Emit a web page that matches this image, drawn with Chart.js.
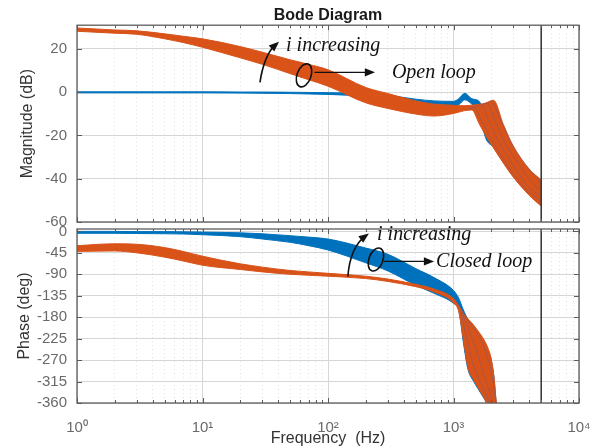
<!DOCTYPE html>
<html>
<head>
<meta charset="utf-8">
<script src="https://cdn.jsdelivr.net/npm/chart.js@4.4.0/dist/chart.umd.min.js"></script>
<style>
  html, body { margin: 0; padding: 0; background: #fff; }
  #wrap { position: relative; width: 602px; height: 448px; overflow: hidden; }
  .pane { position: absolute; left: 0; width: 602px; }
  #magPane { top: 0; height: 240px; }
  #phasePane { top: 210px; height: 238px; }
</style>
</head>
<body>
<div id="wrap">
  <div class="pane" id="magPane"><canvas id="magChart" width="602" height="240"></canvas></div>
  <div class="pane" id="phasePane"><canvas id="phaseChart" width="602" height="238"></canvas></div>
</div>
<script>
(function () {
  "use strict";

  // axis ticks
  const decadeTicks = [1, 10, 100, 1000, 10000];
  const decadeLabels = ['10⁰', '10¹', '10²', '10³', '10⁴'];
  const magTicks = [-60, -40, -20, 0, 20];
  const phaseTicks = [-360, -315, -270, -225, -180, -135, -90, -45, 0];
  const markerFreq = 5000;

  // magnitude (dB): envelope of the family of curves, closed loop (blue) and open loop (orange)
  const freqMag = [1, 2, 3, 5, 7, 10, 20, 30, 50, 70, 100, 200, 300, 500, 700, 1000, 1100, 1230, 1400, 1600, 1800, 2080, 2500, 3000, 4000, 5000];
  const magClosedHi = [0.2, 0.2, 0.2, 0.2, 0.2, 0.2, 0.1, 0.1, 0, -0.1, -0.2, -0.6, -1.4, -3.2, -4.0, -4.2, -3.0, -0.5, -3.0, -4.2, -12, -22, -31, -38.5, -46, -50];
  const magClosedLo = [-0.3, -0.3, -0.3, -0.3, -0.3, -0.3, -0.4, -0.5, -0.6, -0.8, -1.0, -1.9, -3.0, -5.0, -6.2, -6.5, -5.8, -3.5, -5.5, -9, -21, -25.5, -32.5, -39, -47, -52.5];
  const magOpenHi = [29.7, 28.8, 28.4, 27.0, 25.9, 24.7, 21.1, 18.5, 15.0, 12.9, 10.4, 2.2, -0.6, -4.0, -5.5, -6.0, -6.2, -6.2, -6.0, -5.6, -5.0, -3.7, -15.0, -25.0, -35.5, -40.5];
  const magOpenLo = [28.2, 27.3, 26.8, 24.7, 23.0, 20.8, 15.9, 12.9, 8.6, 5.8, 2.8, -4.9, -7.5, -10.1, -11.0, -9.8, -9.2, -8.5, -8.2, -14.5, -19.9, -25.7, -32.8, -39.3, -47.6, -52.7];

  // individual open-loop curves past the resonance
  const magFanFreq = [
    [1300, 1450, 1700, 2100, 2700, 3600, 5000],
    [1450, 1650, 1900, 2300, 3000, 4000, 5000],
    [1650, 1850, 2100, 2500, 3200, 4200, 5000],
    [1850, 2000, 2300, 2800, 3500, 4500, 5000]
  ];
  const magFanDb = [
    [-8, -7, -14, -24, -34, -43.5, -50.5],
    [-7.5, -6, -13, -23, -34, -44, -48],
    [-6.5, -5, -12, -22, -32, -41.5, -45.5],
    [-5.5, -4.2, -11, -22, -31, -39, -42.5]
  ];

  // phase (deg)
  const freqPh = [1, 2, 3, 5, 7, 10, 20, 30, 50, 70, 100, 200, 300, 500, 700, 1000, 1100, 1200, 1300, 1450, 1550, 1700, 1850, 2000, 2100, 2200, 2400];
  const phClosedHi = [0, 0, -0.5, -0.5, -1, -1.5, -3, -5, -9, -12, -16, -35, -48, -78, -97, -124, -140, -165, -184, -200, -210, -225, -245, -270, -305, -362, -385];
  const phClosedLo = [-4, -4, -4.5, -5, -5.5, -7, -11, -16, -23, -30, -39, -66, -83, -113, -130, -151, -165, -234, -288, -315, -328, -345, -362, -383, -393, -393, -393];
  const phOpenHi = [-30, -26, -27, -34, -42, -52, -68, -75, -82, -85, -88, -94, -100, -111, -121, -141, -156, -172, -183, -197, -207, -222, -240, -268, -305, -360, -380];
  const phOpenLo = [-42, -41, -45, -54, -62, -71, -80, -85, -90, -92, -94, -99, -105, -116, -127, -150, -168, -227, -284, -312, -325, -343, -360, -380, -390, -390, -390];

  const phFanFreq = [
    [1150, 1250, 1400, 1600, 1800, 2000],
    [1150, 1300, 1500, 1700, 1900, 2100],
    [1150, 1350, 1600, 1850, 2050, 2200]
  ];
  const phFanDeg = [
    [-170, -215, -270, -310, -340, -370],
    [-168, -200, -245, -290, -330, -375],
    [-165, -192, -220, -262, -310, -370]
  ];

  const BLUE = '#0072BD';
  const ORANGE = '#D95319';
  const FAN = 'rgba(115, 90, 120, 0.55)';
  const FONT = '"Liberation Sans", Arial, sans-serif';
  const NOTE_FONT = 'italic 20px "Liberation Serif", "Times New Roman", serif';

  const minorTicks = decadeTicks.slice(0, -1).flatMap(d => [2, 3, 4, 5, 6, 7, 8, 9].map(k => k * d));

  // annotation anchors, in (Hz, axis units)
  const magNote = {
    bend: [[28.7, 4.6], [30.9, 17], [40.7, 23.4]],
    text: [46.3, 21.5, 'i increasing'],
    ring: [64.4, 7.8],
    pointer: [[78, 9.2], [237, 9.2]],
    name: [323, 9.2, 'Open loop']
  };
  const phaseNote = {
    bend: [[144, -94.6], [149.7, -33.6], [212, -4.2]],
    text: [246, -8, 'i increasing'],
    ring: [241, -59],
    pointer: [[279, -63], [700, -63]],
    name: [726, -63, 'Closed loop']
  };

  function pts(xs, ys) {
    return xs.map((x, k) => ({x: x, y: ys[k]}));
  }

  function envelope(xs, lo, hi, color, order) {
    return [
      {data: pts(xs, lo), borderColor: color, borderWidth: 1, fill: false, order: order},
      {data: pts(xs, hi), borderColor: color, borderWidth: 1, backgroundColor: color, fill: '-1', order: order}
    ];
  }

  function fanLines(fx, fy) {
    return fx.map((xs, k) => ({data: pts(xs, fy[k]), borderColor: FAN, borderWidth: 0.9, fill: false, order: 2}));
  }

  function marker(lo, hi) {
    return {
      data: [{x: markerFreq, y: lo}, {x: markerFreq, y: hi}],
      borderColor: '#3a3a3a', borderWidth: 1.6, fill: false, order: 1,
      tension: 0, cubicInterpolationMode: 'default'
    };
  }

  function freqAxis(showLabels) {
    return {
      type: 'logarithmic',
      min: 1,
      max: 10000,
      afterBuildTicks: s => { s.ticks = decadeTicks.map(v => ({value: v})); },
      afterFit: s => {
        s.height = showLabels ? 45 : 0;
        s.paddingLeft = 0;
        s.paddingRight = 0;
      },
      grid: {color: '#d6d6d6', lineWidth: 1, drawTicks: false},
      border: {display: false},
      ticks: {
        display: showLabels,
        autoSkip: false,
        maxRotation: 0,
        padding: 16,
        color: '#6a6a6a',
        font: {family: FONT, size: 15},
        callback: (v, i) => decadeLabels[i]
      },
      title: {
        display: showLabels,
        text: 'Frequency  (Hz)',
        color: '#333',
        font: {family: FONT, size: 16},
        padding: {top: 0, bottom: 0}
      }
    };
  }

  function minorAxis() {
    return {
      type: 'logarithmic',
      position: 'bottom',
      min: 1,
      max: 10000,
      afterBuildTicks: s => { s.ticks = minorTicks.map(v => ({value: v})); },
      afterFit: s => {
        s.height = 0;
        s.paddingLeft = 0;
        s.paddingRight = 0;
      },
      grid: {color: '#e2e2e2', lineWidth: 1, drawTicks: false},
      border: {display: false, dash: [1, 3]},
      ticks: {display: false}
    };
  }

  function valueAxis(min, max, ticks, label, titlePad) {
    return {
      min: min,
      max: max,
      afterBuildTicks: s => { s.ticks = ticks.map(v => ({value: v})); },
      afterFit: s => {
        s.width = 77;
        s.paddingTop = 0;
        s.paddingBottom = 0;
      },
      grid: {color: '#d6d6d6', drawTicks: false},
      border: {display: false},
      ticks: {autoSkip: false, padding: 10, color: '#6a6a6a', font: {family: FONT, size: 15}},
      title: {
        display: true,
        text: label,
        color: '#333',
        font: {family: FONT, size: 16},
        padding: {top: titlePad, bottom: 0}
      }
    };
  }

  // box around the axes with short inward tick marks on all four sides
  const framePlugin = {
    id: 'frame',
    afterDatasetsDraw(chart) {
      const {ctx, chartArea: a, scales} = chart;
      ctx.save();
      ctx.strokeStyle = '#5c5c5c';
      ctx.lineWidth = 1;
      ctx.beginPath();
      const xTicks = scales.x.ticks.concat(scales.xMinor.ticks);
      xTicks.forEach(t => {
        const x = Math.round(scales.x.getPixelForValue(t.value)) + 0.5;
        const len = decadeTicks.includes(t.value) ? 5 : 3;
        ctx.moveTo(x, a.bottom); ctx.lineTo(x, a.bottom - len);
        ctx.moveTo(x, a.top); ctx.lineTo(x, a.top + len);
      });
      scales.y.ticks.forEach(t => {
        const y = Math.round(scales.y.getPixelForValue(t.value)) + 0.5;
        ctx.moveTo(a.left, y); ctx.lineTo(a.left + 5, y);
        ctx.moveTo(a.right, y); ctx.lineTo(a.right - 5, y);
      });
      ctx.stroke();
      ctx.lineWidth = 1.3;
      ctx.strokeRect(a.left, a.top, a.right - a.left, a.bottom - a.top);
      ctx.restore();
    }
  };

  function arrowHead(ctx, tip, angle) {
    const len = 11, half = 0.38;
    ctx.beginPath();
    ctx.moveTo(tip[0], tip[1]);
    ctx.lineTo(tip[0] - len * Math.cos(angle - half), tip[1] - len * Math.sin(angle - half));
    ctx.lineTo(tip[0] - len * Math.cos(angle + half), tip[1] - len * Math.sin(angle + half));
    ctx.closePath();
    ctx.fill();
  }

  function notePlugin(note) {
    return {
      id: 'notes',
      afterDraw(chart) {
        const ctx = chart.ctx;
        const xs = chart.scales.x, ys = chart.scales.y;
        const px = p => [xs.getPixelForValue(p[0]), ys.getPixelForValue(p[1])];
        ctx.save();
        ctx.strokeStyle = '#111';
        ctx.fillStyle = '#111';
        ctx.lineWidth = 1.6;

        // curved "i increasing" arrow
        const [a, c, h] = note.bend.map(px);
        ctx.beginPath();
        ctx.moveTo(a[0], a[1]);
        ctx.quadraticCurveTo(c[0], c[1], h[0] - 3, h[1] + 2);
        ctx.stroke();
        arrowHead(ctx, h, Math.atan2(h[1] - c[1], h[0] - c[0]));

        // ring round the family of curves
        const r = px(note.ring);
        ctx.beginPath();
        ctx.ellipse(r[0], r[1], 7, 12, 0.35, 0, Math.PI * 2);
        ctx.stroke();

        // pointer to the label
        const [p0, p1] = note.pointer.map(px);
        ctx.lineWidth = 1.3;
        ctx.beginPath();
        ctx.moveTo(p0[0], p0[1]);
        ctx.lineTo(p1[0] - 8, p1[1]);
        ctx.stroke();
        arrowHead(ctx, p1, 0);

        ctx.font = NOTE_FONT;
        ctx.textBaseline = 'middle';
        ctx.textAlign = 'left';
        const t = px(note.text);
        ctx.fillText(note.text[2], t[0], t[1]);
        const n = px(note.name);
        ctx.fillText(note.name[2], n[0], n[1]);
        ctx.restore();
      }
    };
  }

  const baseElements = {
    point: {radius: 0},
    line: {borderWidth: 1, cubicInterpolationMode: 'monotone'}
  };

  new Chart(document.getElementById('magChart'), {
    type: 'line',
    data: {
      datasets: [
        ...envelope(freqMag, magClosedLo, magClosedHi, BLUE, 4),
        ...envelope(freqMag, magOpenLo, magOpenHi, ORANGE, 3),
        ...fanLines(magFanFreq, magFanDb),
        marker(-60, 31)
      ]
    },
    options: {
      responsive: false,
      animation: false,
      layout: {padding: {left: 0, right: 23, top: 0, bottom: 18}},
      elements: baseElements,
      plugins: {
        legend: {display: false},
        tooltip: {enabled: false},
        title: {
          display: true,
          fullSize: false,
          text: 'Bode Diagram',
          color: '#1a1a1a',
          font: {family: FONT, size: 16, weight: 'bold'},
          padding: {top: 6, bottom: 0}
        }
      },
      scales: {
        x: freqAxis(false),
        xMinor: minorAxis(),
        y: valueAxis(-60, 31, magTicks, 'Magnitude (dB)', 18)
      }
    },
    plugins: [framePlugin, notePlugin(magNote)]
  });

  new Chart(document.getElementById('phaseChart'), {
    type: 'line',
    data: {
      datasets: [
        ...envelope(freqPh, phClosedLo, phClosedHi, BLUE, 4),
        ...envelope(freqPh, phOpenLo, phOpenHi, ORANGE, 3),
        ...fanLines(phFanFreq, phFanDeg),
        marker(-360, 5)
      ]
    },
    options: {
      responsive: false,
      animation: false,
      layout: {padding: {left: 0, right: 23, top: 19, bottom: 0}},
      elements: baseElements,
      plugins: {
        legend: {display: false},
        tooltip: {enabled: false}
      },
      scales: {
        x: freqAxis(true),
        xMinor: minorAxis(),
        y: valueAxis(-360, 5, phaseTicks, 'Phase (deg)', 15)
      }
    },
    plugins: [framePlugin, notePlugin(phaseNote)]
  });
})();
</script>
</body>
</html>
